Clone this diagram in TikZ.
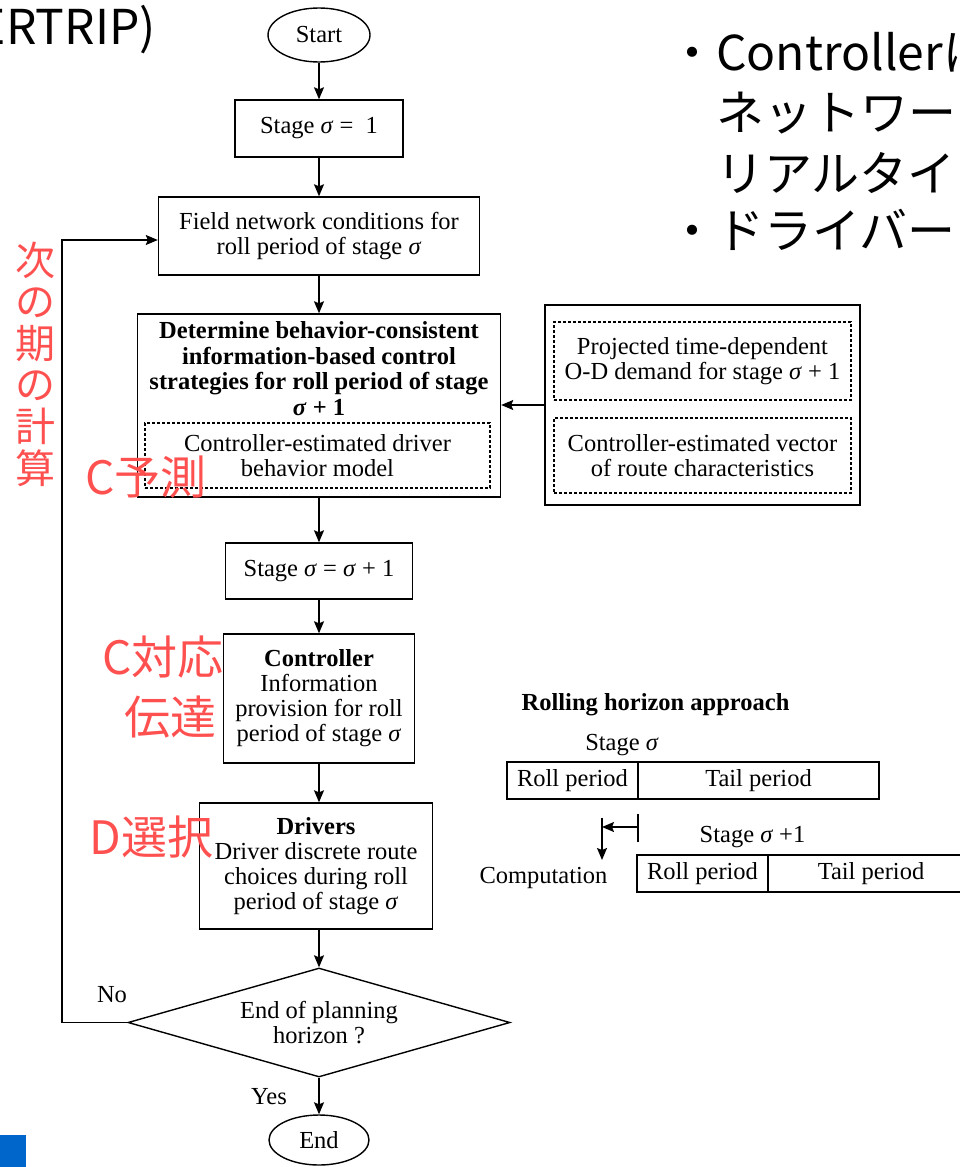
\documentclass[tikz,border=0pt]{standalone}
\usepackage{fontspec}
\setmainfont{Liberation Serif}
\newfontfamily\jpfont{Noto Sans CJK JP}
\usetikzlibrary{shapes.geometric,arrows.meta}
\definecolor{notered}{RGB}{255,80,80}
\definecolor{slideblue}{RGB}{0,102,204}
\newcommand{\sig}{\textit{σ}}
\begin{document}
\begin{tikzpicture}[x=1pt,y=-1pt,
  every node/.style={font=\fontsize{24.5}{25}\selectfont,align=center},
  box/.style={draw,line width=1.4pt,inner sep=0pt},
  dashbox/.style={draw,line width=1.2pt,dash pattern=on 3pt off 2pt,inner sep=0pt},
  terminal/.style={draw,ellipse,line width=1.4pt,inner sep=0pt},
  decision/.style={draw,diamond,shape aspect=3.5,line width=1.4pt,inner sep=0pt},
  flow/.style={line width=1.4pt,-{Stealth[length=12pt,width=10pt,inset=2pt]}},
  link/.style={line width=1.4pt},
  note/.style={font=\jpfont\fontsize{46}{50}\selectfont,text=notered,inner sep=0pt},
  slide/.style={font=\jpfont\fontsize{48}{59}\selectfont,inner sep=0pt,anchor=west}]
\useasboundingbox (0,0) rectangle (960,1167);
\clip (0,0) rectangle (960,1167);
% Slide text
\node[slide,anchor=east] (title) at (156,30) {ERTRIP)};
\node[slide] (bulletone) at (668,52) {・Controllerは};
\node[slide] (lineone) at (716,113) {ネットワー};
\node[slide] (linetwo) at (716,173) {リアルタイ};
\node[slide] (bullettwo) at (668,230) {・ドライバー};
\fill[slideblue] (0,1135) rectangle (26,1167);
% Flowchart nodes
\node[terminal,minimum width=102,minimum height=54] (start) at (319,35) {Start};
\node[box,minimum width=168,minimum height=57] (stageone) at (319,128.5) {Stage \sig{} =~ 1};
\node[box,minimum width=321,minimum height=78] (field) at (319,236) {Field network conditions for\\roll period of stage \sig};
\node[box,minimum width=363,minimum height=183] (det) at (319,405.5) {};
\node[font=\fontsize{24.5}{25.5}\selectfont\bfseries] (dettext) at (319,368.5)
  {Determine behavior-consistent\\information-based control\\strategies for roll period of stage\\\sig{} + 1};
\node[dashbox,minimum width=345,minimum height=65] (drvmodel) at (317.5,455.5) {Controller-estimated driver\\behavior model};
\node[box,minimum width=315,minimum height=200] (ext) at (702.5,405) {};
\node[dashbox,minimum width=297,minimum height=78] (demand) at (702.5,361) {Projected time-dependent\\O-D demand for stage \sig{} + 1};
\node[dashbox,minimum width=297,minimum height=75] (routevec) at (702.5,455.5) {Controller-estimated vector\\of route characteristics};
\node[box,minimum width=187,minimum height=56] (stagenext) at (319,571) {Stage \sig{} = \sig{} + 1};
\node[box,minimum width=191,minimum height=129] (ctrl) at (319,698.5) {\textbf{Controller}\\Information\\provision for roll\\period of stage \sig};
\node[box,minimum width=233,minimum height=126] (drv) at (316,866) {\textbf{Drivers}\\Driver discrete route\\choices during roll\\period of stage \sig};
\node[decision,minimum width=382,minimum height=109] (dec) at (319,1022.5) {End of planning\\horizon ?};
\node[terminal,minimum width=100,minimum height=50] (end) at (319,1140) {End};
\node (nolabel) at (112,995) {No};
\node (yeslabel) at (269,1097) {Yes};
% Flowchart arrows
\draw[flow] (start) -- (stageone);
\draw[flow] (stageone) -- (field);
\draw[flow] (field) -- (det);
\draw[flow] (ext.west) -- (ext.west -| det.east);
\draw[flow] (det) -- (stagenext);
\draw[flow] (stagenext) -- (ctrl);
\draw[flow] (ctrl.south) -- (ctrl.south |- drv.north);
\draw[flow] (drv.south -| dec.north) -- (dec.north);
\draw[flow] (dec) -- (end);
\coordinate (loopcorner) at (62,1022.5);
\draw[flow] (dec.west) -- (loopcorner) |- ([yshift=-4pt]field.west);
% Rolling horizon
\node (rhtitle) at (655.5,705) {\textbf{Rolling horizon approach}};
\node (stagesig) at (622,745) {Stage \sig};
\node[box,minimum width=131,minimum height=37] (rollone) at (572.5,780.5) {Roll period};
\node[box,minimum width=241,minimum height=37] (tailone) at (758.5,780.5) {Tail period};
\node (stagesignext) at (752.5,837) {Stage \sig{} +1};
\node[box,minimum width=131,minimum height=37] (rolltwo) at (702.5,873.5) {Roll period};
\node[box,minimum width=206,minimum height=37] (tailtwo) at (871,873.5) {Tail period};
\node (comp) at (543.5,878) {Computation};
\coordinate (tickhi) at (638,814);
\coordinate (ticklo) at (638,842);
\coordinate (tickmid) at (638,827);
\coordinate (comptop) at (602,818);
\coordinate (compbot) at (602,860);
\draw[link] (tickhi) -- (ticklo);
\draw[flow] (tickmid) -- (tickmid -| comptop);
\draw[flow] (comptop) -- (compbot);
% Notes
\node[note,font=\jpfont\fontsize{40}{41.6}\selectfont] (nextcalc) at (35,364) {次\\の\\期\\の\\計\\算};
\node[note] (cpredict) at (146,477) {C予測};
\node[note] (crespond) at (163,657) {C対応};
\node[note] (ctransmit) at (170,717) {伝達};
\node[note] (dselect) at (151.5,837) {D選択};
\end{tikzpicture}
\end{document}
